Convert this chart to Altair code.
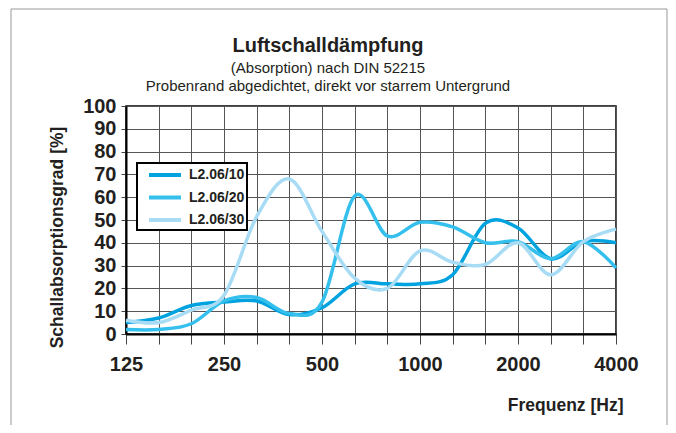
import altair as alt
import pandas as pd

freqs = ["125", "160", "200", "250", "315", "400", "500", "630",
         "800", "1000", "1250", "1600", "2000", "2500", "3150", "4000"]
label_freqs = ["125", "250", "500", "1000", "2000", "4000"]
series = ["L2.06/10", "L2.06/20", "L2.06/30"]
s10 = [5, 7, 12.5, 14, 14.5, 8.5, 11.5, 22, 22, 22, 26, 48.5, 46.5, 33, 40.5, 40]
s20 = [2, 2, 4.5, 14.5, 16, 9, 14, 60.5, 43, 49, 47, 40, 40.5, 33, 40.5, 29]
s30 = [6, 5, 10.5, 17, 51.5, 68, 45, 24.5, 20, 36.5, 31.5, 30.5, 40, 26, 40.5, 46]
colors = ["#00A3E0", "#35BFEC", "#A8DCF5"]
y_ticks = list(range(0, 101, 10))

rows = []
for name, vals in zip(series, [s10, s20, s30]):
    for f, v in zip(freqs, vals):
        rows.append({"Frequenz": f, "Wert": v, "Serie": name})
df = pd.DataFrame(rows)

FONT = "Liberation Sans"
TXT = "#231f20"

label_list = ",".join("'%s'" % s for s in label_freqs)

lines = alt.Chart(df).mark_line(strokeWidth=3.5, interpolate="cardinal").encode(
    x=alt.X("Frequenz:O", sort=freqs,
            scale=alt.Scale(type="point", padding=0),
            axis=alt.Axis(title="Frequenz [Hz]",
                          labelExpr="indexof([%s], datum.value) >= 0 ? datum.value : ''" % label_list,
                          labelAngle=0, labelOverlap=False, labelBound=False,
                          labelFont=FONT, labelFontSize=20, labelFontWeight="bold",
                          labelColor=TXT, labelPadding=10,
                          tickSize=10, tickColor="#444", tickWidth=1,
                          domainColor="black", domainWidth=2,
                          grid=True, gridColor="#555", gridWidth=1,
                          titleFont=FONT, titleFontSize=17.5, titleFontWeight="bold",
                          titleColor=TXT, titleAlign="right", titleBaseline="middle",
                          titleX=497, titleY=71)),
    y=alt.Y("Wert:Q", scale=alt.Scale(domain=[0, 100], nice=False),
            axis=alt.Axis(title="Schallabsorptionsgrad [%]", values=y_ticks,
                          labelFont=FONT, labelFontSize=20, labelFontWeight="bold",
                          labelColor=TXT, labelPadding=5,
                          tickSize=5, tickColor="#444", tickWidth=1,
                          domainColor="black", domainWidth=2,
                          grid=True, gridColor="#555", gridWidth=1,
                          titleFont=FONT, titleFontSize=17.5, titleFontWeight="bold",
                          titleColor=TXT, titleBaseline="middle", titleAngle=270,
                          titleX=-69, titleY=131)),
    color=alt.Color("Serie:N", scale=alt.Scale(domain=series, range=colors),
                    legend=alt.Legend(orient="none", legendX=11, legendY=57, title=None,
                                      symbolType="M0,0H4", symbolSize=256,
                                      symbolStrokeWidth=4,
                                      labelFont=FONT, labelFontSize=14,
                                      labelFontWeight="bold", labelColor=TXT,
                                      labelOffset=30, padding=2, rowPadding=4.5,
                                      strokeColor="black", fillColor="white")),
)

frame = alt.Chart(pd.DataFrame({"a": [0]})).mark_rect(
    fill="transparent", stroke="#999", strokeWidth=1, clip=False
).encode(x=alt.value(-115), x2=alt.value(541), y=alt.value(-97), y2=alt.value(334))

chart = alt.layer(frame, lines).properties(
    width=490, height=228,
    title=alt.TitleParams("Luftschalldämpfung",
                          subtitle=["(Absorption) nach DIN 52215",
                                    "Probenrand abgedichtet, direkt vor starrem Untergrund"],
                          font=FONT, fontSize=20, fontWeight="bold", color=TXT,
                          subtitleFont=FONT, subtitleFontSize=15, subtitleColor=TXT,
                          subtitlePadding=5, subtitleLineHeight=18,
                          anchor="middle", dx=-43, offset=-85, frame="group"),
    autosize=alt.AutoSizeParams(type="none"),
    padding={"left": 118, "top": 98, "right": 52, "bottom": 91},
).configure_view(stroke="black", strokeWidth=1.5).configure_legend(strokeWidth=2)

chart.save("out.html", embed_options={"renderer": "svg", "actions": False})
